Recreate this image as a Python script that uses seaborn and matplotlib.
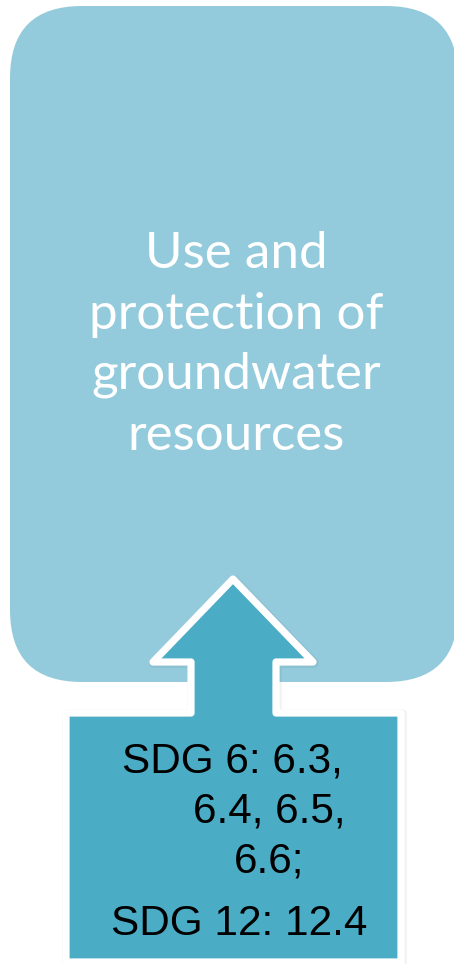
import seaborn as sns
import matplotlib.pyplot as plt
from matplotlib.patches import FancyBboxPatch, Polygon

# text of the diagram
goal_lines = ["Use and", "protection of", "groundwater", "resources"]
target_lines = ["SDG 6: 6.3,", "6.4, 6.5,", "6.6;", "SDG 12: 12.4"]

light_blue = "#93CBDC"
dark_blue = "#4BACC6"

sns.set_style("white")

fig = plt.figure(figsize=(4.54, 9.64), dpi=100)
ax = fig.add_axes([0, 0, 1, 1])
ax.set_xlim(0, 454)
ax.set_ylim(964, 0)
ax.axis("off")

# big rounded box
r = 72
box = FancyBboxPatch((10 + r, 6 + r), 448 - 2 * r, 676 - 2 * r,
                     boxstyle=f"round,pad={r}", fc=light_blue, ec="none", zorder=1)
ax.add_patch(box)

# up arrow + target box as one outlined shape
outline = [(66, 962), (66, 713), (191, 713), (191, 662), (153, 662), (233, 579),
           (313, 662), (276, 662), (276, 713), (401, 713), (401, 962)]
shadow = Polygon([(x + 1, y + 1) for x, y in outline], closed=True,
                 fc="none", ec="#000000", lw=7, alpha=0.05, joinstyle="round", zorder=2)
ax.add_patch(shadow)
arrow = Polygon(outline, closed=True, fc=dark_blue, ec="white", lw=5.2,
                joinstyle="round", zorder=3)
ax.add_patch(arrow)

# goal text
for i, line in enumerate(goal_lines):
    ax.text(236, 268 + i * 60.5, line, color="white", fontsize=36.8, family="Lato",
            fontweight="normal", ha="center", va="baseline", zorder=4)

# target text
tx = [232, 269, 269, 239]
ty = [772, 822, 873, 935]
for x, y, line in zip(tx, ty, target_lines):
    ax.text(x, y, line, color="black", fontsize=30.4, family="Liberation Sans",
            ha="center", va="baseline", zorder=4)

fig.savefig("out.png", dpi=100)
